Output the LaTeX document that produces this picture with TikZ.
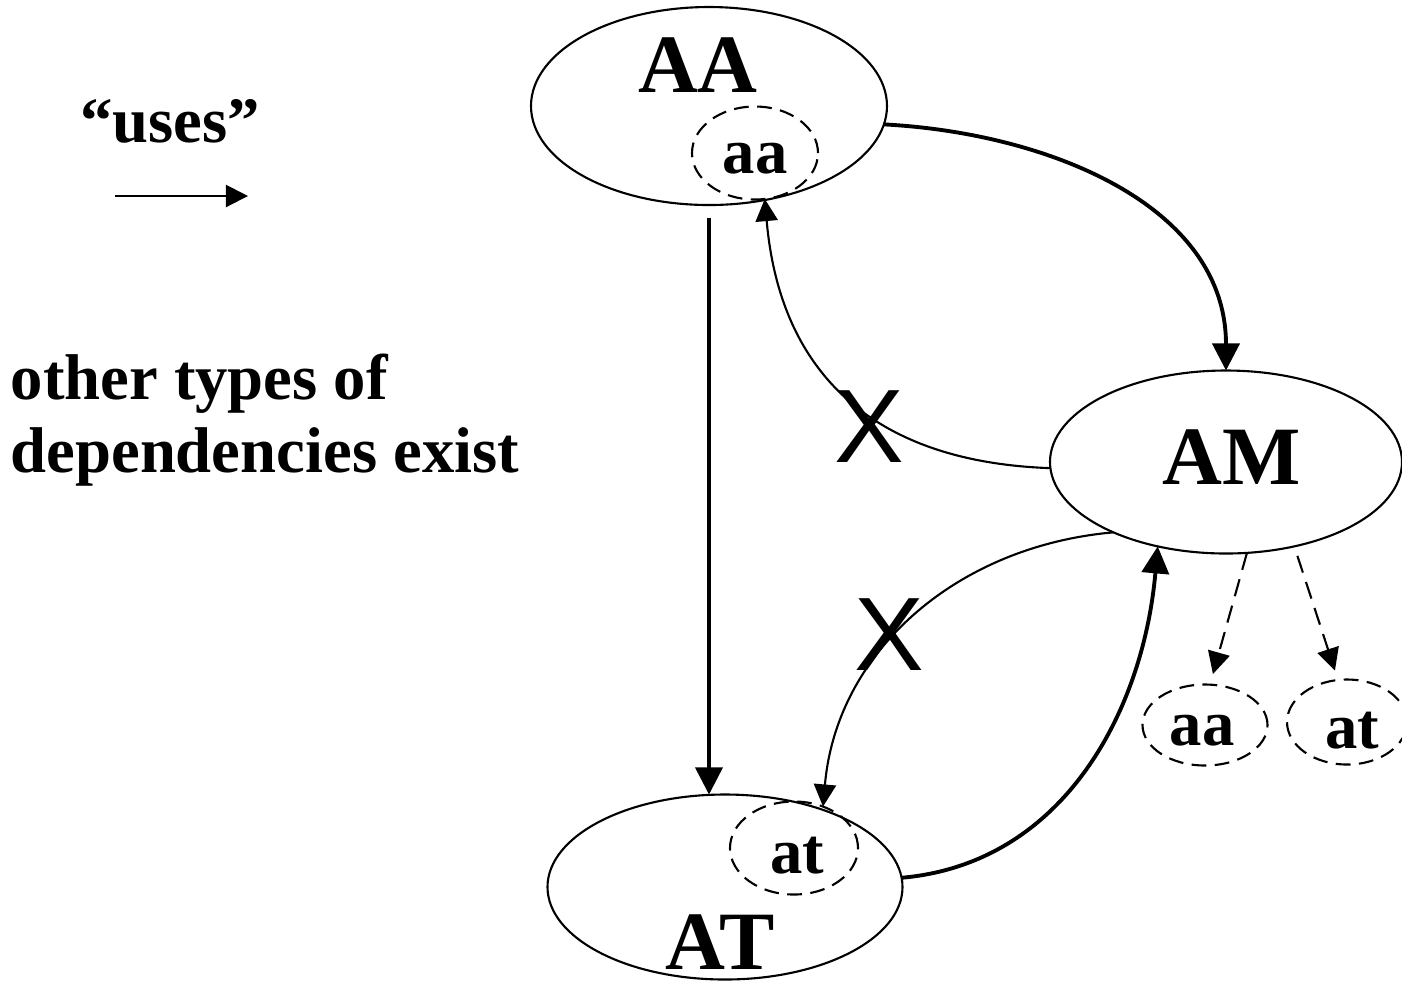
\documentclass[tikz,border=0pt]{standalone}
\usepackage{fontspec}
\setmainfont{Liberation Serif}
\newfontfamily\crossfont{Liberation Sans}
\usetikzlibrary{arrows.meta,shapes.geometric}

\begin{document}
\begin{tikzpicture}[
	modbox/.style={
		draw,
		ellipse,
		line width=0.6pt,
		inner sep=0pt,
		outer sep=0pt
	},
	subbox/.style={modbox,dash pattern=on 4.2pt off 2.4pt},
	bigname/.style={font=\bfseries\fontsize{23.6}{28}\selectfont,inner sep=0pt,anchor=base},
	smallname/.style={font=\bfseries\fontsize{18.4}{20.7}\selectfont,inner sep=0pt},
	cross/.style={font=\crossfont\fontsize{29.7}{32}\selectfont,inner sep=0pt},
	weak/.style={-{Triangle[length=6.3pt,width=6.3pt]},line width=0.6pt},
	strong/.style={-{Triangle[length=7.7pt,width=7.7pt]},line width=1.1pt},
	dep/.style={weak,dash pattern=on 5pt off 2.8pt}
	]
	
	\useasboundingbox (0,0) rectangle (14.02,-9.80);
	
	% modules
	\node[modbox,minimum width=3.56cm,minimum height=1.98cm] (AA) at (7.09,-1.06) {};
	\node[subbox,minimum width=1.26cm,minimum height=0.93cm] (aa1) at (7.55,-1.53) {};
	\node[modbox,minimum width=3.55cm,minimum height=1.85cm] (AT) at (7.25,-8.87) {};
	\node[subbox,minimum width=1.28cm,minimum height=0.93cm] (at1) at (7.94,-8.48) {};
	\node[modbox,minimum width=3.52cm,minimum height=1.83cm] (AM) at (12.26,-4.62) {};
	\node[subbox,minimum width=1.25cm,minimum height=0.81cm] (aa2) at (12.05,-7.25) {};
	\node[subbox,minimum width=1.20cm,minimum height=0.85cm] (at2) at (13.47,-7.22) {};
	
	% names
	\node[bigname] (AAname) at (6.98,-0.92) {AA};
	\node[bigname] (ATname) at (7.20,-9.69) {AT};
	\node[bigname] (AMname) at (12.32,-4.84) {AM};
	\node[smallname,anchor=base] (aa1name) at (7.55,-1.73) {aa};
	\node[smallname,anchor=base] (at1name) at (7.97,-8.73) {at};
	\node[smallname,anchor=base] (aa2name) at (12.02,-7.45) {aa};
	\node[smallname,anchor=base] (at2name) at (13.52,-7.48) {at};
	
	% legend
	\node[smallname,anchor=base] (uses) at (1.70,-1.42) {“uses”};
	\coordinate (legA) at (1.15,-1.96);
	\coordinate (legB) at (2.48,-1.96);
	\draw[weak] (legA) -- (legB);
	\node[smallname,align=left,anchor=north west] (note) at (0.10,-3.53)
	{other types of\\dependencies exist};
	
	% uses
	\draw[strong,line width=1pt,shorten <=0.13cm] (AA.south) -- (AA.south |- AT.north);
	\draw[strong] (AA.-6) to[out=-3,in=90] (AM.north);
	\draw[strong] (AT.3) to[out=5,in=-95] (AM.231);
	\draw[weak] (AM.182) to[out=178,in=-85,looseness=1.15] (aa1.-78);
	\draw[weak] (AM.212) to[out=185,in=85] (at1.55);
	\draw[dep,shorten >=0.11cm] (AM.-77) -- (aa2.83);
	\draw[dep,shorten <=0.1cm,shorten >=0.1cm] (AM.-51) -- (at2.102);
	
	% forbidden
	\node[cross] (X1) at (8.69,-4.27) {X};
	\node[cross] (X2) at (8.89,-6.35) {X};
	
\end{tikzpicture}
\end{document}
